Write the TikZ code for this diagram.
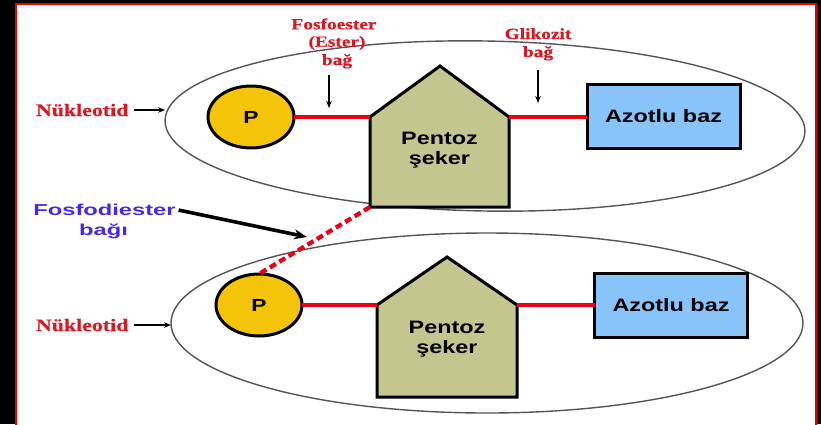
\documentclass[tikz,border=0pt]{standalone}
\usepackage{fontspec}
\usetikzlibrary{shapes.geometric,arrows.meta}
\newfontfamily\serifB[FakeStretch=1.25,FakeBold=0.6]{Liberation Serif Bold}
\newfontfamily\sansB[FakeStretch=1.3]{Liberation Sans}
\newfontfamily\sansW[FakeStretch=1.5]{Liberation Sans}
\definecolor{labred}{RGB}{215,25,35}
\definecolor{bondred}{RGB}{235,0,20}
\definecolor{pgold}{RGB}{244,196,8}
\definecolor{sugarc}{RGB}{196,198,144}
\definecolor{basec}{RGB}{136,196,250}
\definecolor{fdblue}{RGB}{72,40,230}
\definecolor{ellc}{RGB}{85,85,85}
\definecolor{framered}{RGB}{235,0,0}
\begin{document}
\begin{tikzpicture}[x=1pt,y=-1pt,
  every node/.style={inner sep=0pt, outer sep=0pt},
  nucl/.style={ellipse, draw=ellc, line width=1.4pt},
  phos/.style={ellipse, draw=black, line width=3pt, fill=pgold, minimum width=86pt, minimum height=62pt, font=\sansB\bfseries\fontsize{17.5}{20}\selectfont},
  basebox/.style={rectangle, draw=black, line width=3pt, fill=basec, minimum width=153pt, minimum height=64pt, font=\sansB\bfseries\fontsize{18}{21}\selectfont},
  sugar/.style={draw=black, line width=3pt, fill=sugarc},
  sugtext/.style={anchor=base, font=\sansB\bfseries\fontsize{18}{21}\selectfont},
  bond/.style={draw=bondred, line width=3.2pt},
  lab/.style={anchor=base, text=labred, font=\serifB\fontsize{15.5}{18}\selectfont},
  nuclab/.style={anchor=base west, text=labred, font=\serifB\fontsize{17.5}{20}\selectfont},
  thinarrow/.style={draw=black, line width=1.1pt, -{Stealth[length=7pt,width=5.5pt]}},
  bigarrow/.style={draw=black, line width=3.6pt, -{Stealth[length=13pt,width=10pt]}},
  dashbond/.style={draw=bondred, line width=4.3pt, dash pattern=on 7pt off 4pt},
  fdlab/.style={anchor=base, text=fdblue, font=\sansW\bfseries\fontsize{15.8}{19}\selectfont}
]
\useasboundingbox (0,0) rectangle (821,424);
% background and frame
\fill[black] (0,0) rectangle (821,424);
\fill[white] (16,4) rectangle (816,426);
\draw[framered, line width=2pt] (16,430) -- (16,4) -- (816,4) -- (816,430);

% nucleotide outlines
\node[nucl, minimum width=640pt, minimum height=170pt, rotate=-1] (nuc1) at (485,126) {};
\node[nucl, minimum width=632pt, minimum height=180pt] (nuc2) at (487,323) {};

% ---- top nucleotide ----
\node[phos] (P1) at (251,117) {P};
\coordinate (s1bl) at (370,207);
\coordinate (s1l) at (370,117);
\coordinate (s1t) at (440,66);
\coordinate (s1r) at (509,117);
\coordinate (s1br) at (509,207);
\draw[sugar] (s1bl) -- (s1l) -- (s1t) -- (s1r) -- (s1br) -- cycle;
\node[sugtext] (S1a) at (439.5,144) {Pentoz};
\node[sugtext] (S1b) at (439.5,164) {şeker};
\node[basebox] (B1) at (663.5,116) {Azotlu baz};
\draw[bond] (P1.east) -- (s1l);
\draw[bond] (s1r) -- (s1r -| B1.west);

% ---- bottom nucleotide ----
\node[phos] (P2) at (259,305) {P};
\coordinate (s2bl) at (377,397);
\coordinate (s2l) at (377,305);
\coordinate (s2t) at (447,257);
\coordinate (s2r) at (517,305);
\coordinate (s2br) at (517,397);
\draw[sugar] (s2bl) -- (s2l) -- (s2t) -- (s2r) -- (s2br) -- cycle;
\node[sugtext] (S2a) at (447,333) {Pentoz};
\node[sugtext] (S2b) at (447,353) {şeker};
\node[basebox] (B2) at (671,305) {Azotlu baz};
\draw[bond] (P2.east) -- (s2l);
\draw[bond] (s2r) -- (s2r -| B2.west);

% phosphodiester bond
\draw[dashbond] (s1bl) -- (P2.north);

% labels
\node[nuclab] (nl1) at (36,116) {Nükleotid};
\draw[thinarrow] ([xshift=6pt]nl1.east) -- (nl1.east -| nuc1.west);
\node[nuclab] (nl2) at (36,331) {Nükleotid};
\draw[thinarrow] ([xshift=6pt]nl2.east) -- (nl2.east -| nuc2.west);

\node[lab] (fe1) at (334,29.3) {Fosfoester};
\node[lab] (fe2) at (337,46.7) {(Ester)};
\node[lab] (fe3) at (337,65) {bağ};
\coordinate (fea) at (329,75);
\coordinate (feb) at (329,108);
\draw[thinarrow] (fea) -- (feb);

\node[lab] (gk1) at (538,39) {Glikozit};
\node[lab] (gk2) at (538,57) {bağ};
\coordinate (gka) at (538,70);
\coordinate (gkb) at (538,103);
\draw[thinarrow] (gka) -- (gkb);

\node[fdlab] (fd1) at (104.5,215.7) {Fosfodiester};
\node[fdlab] (fd2) at (103.5,235) {bağı};
\coordinate (fdt) at (307,237);
\draw[bigarrow] ([xshift=3pt]fd1.east) -- (fdt);
\end{tikzpicture}
\end{document}
